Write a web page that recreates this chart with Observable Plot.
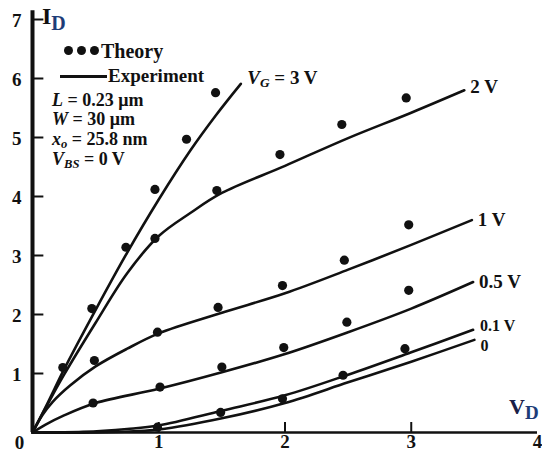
<!DOCTYPE html>
<html><head><meta charset="utf-8">
<script src="https://cdn.jsdelivr.net/npm/d3@7"></script>
<script src="https://cdn.jsdelivr.net/npm/@observablehq/plot@0.6"></script>
<style>
body{margin:0;background:#fff;}
#wrap{position:relative;width:542px;height:461px;overflow:hidden;font-family:"Liberation Serif","Times New Roman",serif;font-weight:bold;color:#111;}
.ov{position:absolute;white-space:nowrap;line-height:1;}
.dot{position:absolute;width:9px;height:9px;border-radius:50%;background:#111;}
sub{font-size:70%;vertical-align:-0.25em;}
</style></head><body><div id="wrap"></div>
<script>
// Experiment curves: [V_D, I_D]
const exp3V = [[0,0],[0.12,0.5],[0.25,1.07],[0.5,2.08],[0.75,3.05],[1.0,3.95],[1.25,4.78],[1.45,5.37],[1.65,5.91]];
const exp2V = [[0,0],[0.12,0.48],[0.25,0.98],[0.5,1.86],[0.75,2.7],[1.0,3.33],[1.25,3.72],[1.5,4.06],[2.0,4.52],[2.5,4.99],[3.0,5.42],[3.42,5.8]];
const exp1V = [[0,0],[0.08,0.3],[0.16,0.52],[0.3,0.8],[0.5,1.12],[0.75,1.42],[1.0,1.68],[1.5,2.03],[2.0,2.36],[2.5,2.76],[3.0,3.18],[3.48,3.6]];
const exp05V = [[0,0],[0.1,0.13],[0.25,0.29],[0.5,0.5],[1.0,0.74],[1.5,1.02],[2.0,1.33],[2.5,1.7],[3.0,2.1],[3.49,2.55]];
const exp01V = [[0,0],[0.4,0.01],[0.75,0.06],[1.0,0.12],[1.5,0.37],[2.0,0.63],[2.5,0.98],[3.0,1.36],[3.49,1.74]];
const exp0V = [[0,0],[0.5,0.0],[0.8,0.02],[1.0,0.05],[1.5,0.24],[2.0,0.5],[2.5,0.85],[3.0,1.2],[3.5,1.57]];
// Theory points
const th3V = [[0.24,1.1],[0.47,2.1],[0.74,3.14],[0.97,4.12],[1.22,4.97],[1.45,5.76]];
const th2V = [[0.97,3.29],[1.46,4.1],[1.96,4.71],[2.45,5.22],[2.96,5.67]];
const th1V = [[0.49,1.22],[0.99,1.7],[1.47,2.12],[1.98,2.49],[2.47,2.92],[2.98,3.52]];
const th05V = [[0.48,0.5],[1.01,0.77],[1.5,1.11],[1.99,1.44],[2.49,1.87],[2.98,2.41]];
const th01V = [[0.99,0.09],[1.49,0.34],[1.98,0.57],[2.46,0.97],[2.95,1.42]];

const seriesNames = ["3 V","2 V","1 V","0.5 V","0.1 V","0"];
const yTicks = [1,2,3,4,5,6,7];
const xTickLabels = [1,2,3,4];
const xTickMarks = [1,2,3];

const expSets = [exp3V,exp2V,exp1V,exp05V,exp01V,exp0V];
const thSets = [th3V,th2V,th1V,th05V,th01V];
const expRows = expSets.flatMap((a,k)=>a.map(([v,i])=>({v,i,s:seriesNames[k]})));
const thRows = thSets.flatMap((a,k)=>a.map(([v,i])=>({v,i,s:seriesNames[k]})));
const ends = expSets.map((a,k)=>({v:a[a.length-1][0], i:a[a.length-1][1], s:seriesNames[k]}));

const fs = 19;
const plot = Plot.plot({
  width:542, height:461,
  marginLeft:32, marginRight:5, marginTop:19, marginBottom:29,
  x:{domain:[0,4], tickFormat:d=>String(d)}, y:{domain:[0,7], tickFormat:d=>String(d)},
  style:{fontFamily:'"Liberation Serif","Times New Roman",serif', fontWeight:"bold", fontSize:fs+"px", color:"#111", background:"transparent"},
  marks:[
    Plot.axisY(yTicks,{tickSize:0, tickPadding:11, fontSize:fs, dy:1, label:null, tickFormat:d=>String(d)}),
    Plot.axisX(xTickLabels,{tickSize:0, tickPadding:2, fontSize:fs, label:null, tickFormat:d=>String(d)}),
    Plot.text([0],{x:0,y:0,text:()=>"0",dx:-13,dy:10,fontSize:fs}),
    Plot.ruleX([0],{y1:0,y2:7.15,strokeWidth:4,stroke:"#111"}),
    Plot.ruleY([0],{x1:0,x2:4,strokeWidth:2.5,stroke:"#111"}),
    Plot.ruleY(yTicks,{x1:0,x2:0.09,strokeWidth:2,stroke:"#111"}),
    Plot.ruleX(xTickMarks,{y1:0,y2:0.17,strokeWidth:2,stroke:"#111"}),
    Plot.line(expRows,{x:"v",y:"i",z:"s",curve:"catmull-rom",stroke:"#111",strokeWidth:2.6}),
    Plot.dot(thRows,{x:"v",y:"i",r:4.6,fill:"#111",stroke:"none"}),
    Plot.text(ends.filter(d=>d.s==="2 V"),{x:"v",y:"i",text:"s",textAnchor:"start",dx:6,dy:-3,fontSize:fs}),
    Plot.text(ends.filter(d=>d.s==="1 V"||d.s==="0.5 V"),{x:"v",y:"i",text:"s",textAnchor:"start",dx:6,dy:0,fontSize:fs}),
    Plot.text(ends.filter(d=>d.s==="0.1 V"),{x:"v",y:"i",text:"s",textAnchor:"start",dx:7,dy:-4,fontSize:16}),
    Plot.text(ends.filter(d=>d.s==="0"),{x:"v",y:"i",text:"s",textAnchor:"start",dx:6,dy:6,fontSize:16})
  ]
});
const wrap = document.getElementById("wrap");
plot.style.position="absolute"; plot.style.left="0"; plot.style.top="0";
wrap.appendChild(plot);
const sx = plot.scale("x"), sy = plot.scale("y");
function ov(html, left, top, size, extra){
  const d=document.createElement("div"); d.className="ov"; d.innerHTML=html;
  d.style.left=left+"px"; d.style.top=top+"px"; d.style.fontSize=size+"px";
  if(extra) Object.assign(d.style, extra);
  wrap.appendChild(d); return d;
}
// axis titles
ov('I<span style="color:#1d3c78;font-size:20px;position:relative;top:6px;">D</span>', 42, 4, 24);
ov('V<span style="color:#1d3c78;font-size:19px;position:relative;top:5px;">D</span>', sx.apply(4)-28, 396, 22, {color:"#1a2048"});
// V_G label at end of 3 V curve
const e3 = ends[0];
ov('<i>V</i><sub><i>G</i></sub> = 3 V', sx.apply(e3.v)+7, sy.apply(e3.i)-15, fs);
// legend
[68,81,94].forEach(x=>{const d=document.createElement("div");d.className="dot";d.style.left=(x-4.5)+"px";d.style.top=(50-4.5)+"px";wrap.appendChild(d);});
ov('Theory', 101, 41, 20);
const ln=document.createElement("div"); Object.assign(ln.style,{position:"absolute",left:"60px",top:"74.5px",width:"47px",height:"3px",background:"#111"}); wrap.appendChild(ln);
ov('Experiment', 108, 66, 19);
// parameters
ov('<i>L</i> = 0.23 &mu;m', 52, 91, 18);
ov('<i>W</i> = 30 &mu;m', 52, 110, 18);
ov('<i>x</i><sub><i>o</i></sub> = 25.8 nm', 52, 130, 18);
ov('<i>V</i><sub><i>BS</i></sub> = 0 V', 52, 150, 18);
</script></body></html>
